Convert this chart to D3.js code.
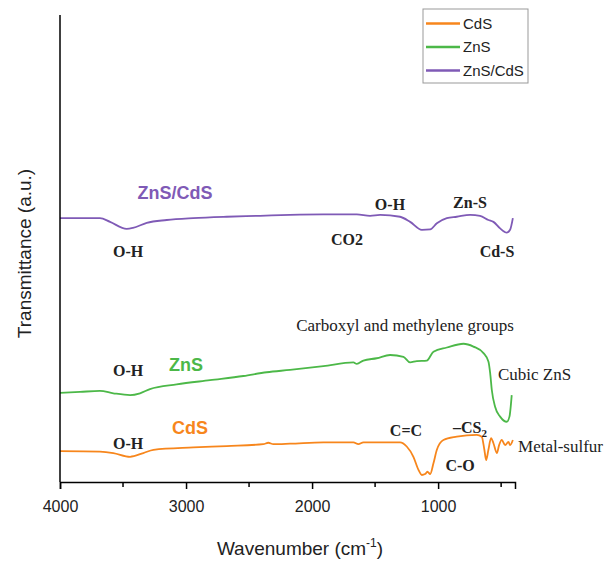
<!DOCTYPE html>
<html>
<head>
<meta charset="utf-8">
<script src="https://cdn.jsdelivr.net/npm/d3@7"></script>
<style>
  body { margin: 0; background: #fff; }
  text { font-family: "Liberation Sans", Arial, sans-serif; }
  .note { font-family: "Liberation Serif", "Times New Roman", serif; fill: #222; }
</style>
</head>
<body>
<div id="chartMain"></div>
<script>
// spectra: wavenumber (cm-1) and transmittance (a.u., offset stacked)
const cdsWn = [4000, 3683, 3577, 3444, 3339, 3259, 2942, 2677, 2387, 2347, 2307, 2175, 1910, 1672, 1633, 1593, 1302, 1249, 1196, 1156, 1129, 1103, 1085, 1063, 1037, 1010, 958, 852, 693, 654, 633, 619, 601, 580, 561, 534, 516, 495, 468, 442, 429, 407];
const cdsT  = [6.6, 6.5, 6.2, 5.4, 6.2, 6.9, 7.4, 7.7, 8.1, 8.4, 8.1, 8.2, 8.5, 8.5, 8.1, 8.5, 8.5, 7.6, 5.4, 2.6, 1.5, 1.7, 2.2, 1.7, 4.0, 6.9, 9.0, 9.7, 10.1, 9.7, 6.9, 4.7, 6.9, 9.4, 8.3, 6.2, 7.9, 9.0, 7.9, 8.6, 7.9, 9.0];

const znsWn = [4000, 3841, 3683, 3577, 3444, 3365, 3286, 3074, 2810, 2545, 2360, 2175, 1910, 1672, 1645, 1593, 1487, 1381, 1275, 1222, 1169, 1090, 1037, 931, 799, 720, 640, 601, 587, 574, 548, 508, 455, 434, 416];
const znsT  = [19.1, 19.3, 19.5, 19.0, 18.6, 19.0, 19.9, 20.9, 21.8, 22.7, 23.5, 24.0, 24.8, 25.6, 25.3, 26.0, 26.5, 27.2, 26.8, 25.6, 25.9, 26.0, 27.9, 28.8, 29.6, 29.0, 27.6, 25.8, 23.3, 19.7, 16.1, 14.0, 12.9, 14.0, 18.6];

const mixWn = [4000, 3683, 3603, 3471, 3421, 3312, 3153, 2944, 2677, 2413, 2175, 1913, 1645, 1540, 1460, 1302, 1222, 1129, 1063, 1010, 931, 852, 746, 667, 601, 561, 508, 455, 429, 407];
const mixT  = [56.5, 56.5, 55.7, 54.2, 54.4, 55.5, 56.1, 56.5, 56.8, 57.0, 57.2, 57.3, 57.3, 57.0, 57.2, 56.8, 55.7, 54.0, 54.1, 55.4, 56.5, 56.8, 57.2, 57.0, 56.1, 55.7, 54.3, 53.4, 54.0, 56.5];

const seriesNames  = ["CdS", "ZnS", "ZnS/CdS"];
const seriesColors = ["#f7861c", "#4cb848", "#7f5ab6"];
const xTicks = [4000, 3000, 2000, 1000];
const xMinorTicks = [3500, 2500, 1500, 500];

// peak labels: [text, wavenumber, transmittance, series index or -1 for black, anchor]
const notes = [
  ["ZnS/CdS", 3088, 60.6, 2, "middle"],
  ["O-H", 3460, 48.2, -1, "middle"],
  ["CO2", 1723, 50.7, -1, "middle"],
  ["O-H", 1382, 58.2, -1, "middle"],
  ["Zn-S", 747, 58.7, -1, "middle"],
  ["Cd-S", 533, 48.2, -1, "middle"],
  ["ZnS", 3000, 23.8, 1, "middle"],
  ["O-H", 3460, 22.7, -1, "middle"],
  ["Carboxyl and methylene groups", 1263, 32.3, -1, "middle"],
  ["Cubic ZnS", 525, 21.8, -1, "start"],
  ["CdS", 2969, 10.3, 0, "middle"],
  ["O-H", 3460, 7.1, -1, "middle"],
  ["C=C", 1255, 9.9, -1, "middle"],
  ["C-O", 826, 2.4, -1, "middle"],
  ["Metal-sulfur", 366, 6.4, -1, "start"]
];

const W = 610, H = 562;
const svg = d3.select('#chartMain').append('svg')
    .attr('width', W).attr('height', H);

const x = d3.scaleLinear().domain([4000, 390]).range([60, 515]);
const y = d3.scaleLinear().domain([0, 100]).range([482, 15]);

const series = [
  cdsWn.map((w, i) => ({ w, t: cdsT[i] })),
  znsWn.map((w, i) => ({ w, t: znsT[i] })),
  mixWn.map((w, i) => ({ w, t: mixT[i] }))
];

const line = d3.line()
    .x(d => x(d.w))
    .y(d => y(d.t))
    .curve(d3.curveMonotoneX);

series.forEach((s, i) => {
  svg.append('path')
      .datum(s)
      .attr('fill', 'none')
      .attr('stroke', seriesColors[i])
      .attr('stroke-width', 1.8)
      .attr('d', line);
});

// axes
const xAxis = d3.axisBottom(x).tickValues(xTicks).tickSize(7).tickPadding(12).tickFormat(d3.format('d'));
const gx = svg.append('g').attr('transform', `translate(0,${y(0)})`).call(xAxis);
gx.select('.domain').attr('stroke-width', 1.5);
gx.selectAll('.tick line').attr('stroke-width', 1.5);
gx.selectAll('text').attr('font-size', 16).attr('fill', '#222')
    .attr('font-family', '"Liberation Sans", Arial, sans-serif');
gx.selectAll('.minor').data(xMinorTicks).enter().append('line')
    .attr('x1', d => x(d)).attr('x2', d => x(d))
    .attr('y1', 0).attr('y2', 5)
    .attr('stroke', '#000').attr('stroke-width', 1.5);

svg.append('line')
    .attr('x1', x(4000)).attr('x2', x(4000))
    .attr('y1', y(100)).attr('y2', y(0))
    .attr('stroke', '#000').attr('stroke-width', 1.5);

// axis titles
const xt = svg.append('text')
    .attr('x', 300).attr('y', 555)
    .attr('text-anchor', 'middle')
    .attr('font-size', 19).attr('fill', '#222')
    .text('Wavenumber (cm');
xt.append('tspan').attr('font-size', 12).attr('dy', -8).text('-1');
xt.append('tspan').attr('dy', 8).text(')');

svg.append('text')
    .attr('transform', `translate(31,${(y(100) + y(0)) / 2 + 5}) rotate(-90)`)
    .attr('text-anchor', 'middle')
    .attr('font-size', 19).attr('fill', '#222')
    .text('Transmittance (a.u.)');

// peak labels
notes.forEach(([t, w, v, si, anchor]) => {
  const el = svg.append('text')
      .attr('x', x(w)).attr('y', y(v))
      .attr('text-anchor', anchor)
      .text(t);
  if (si >= 0) {
    el.attr('fill', seriesColors[si]).attr('font-size', 18).attr('font-weight', 'bold');
  } else if (t.length > 6) {
    el.attr('class', 'note').attr('font-size', 17);
  } else {
    el.attr('class', 'note').attr('font-size', 16).attr('font-weight', 'bold');
  }
});

// -CS2 with subscript
const cs = svg.append('text')
    .attr('class', 'note')
    .attr('x', x(882)).attr('y', y(10.5))
    .attr('font-size', 16).attr('font-weight', 'bold')
    .text('\u2013CS');
cs.append('tspan').attr('font-size', 11).attr('dy', 4).text('2');

// legend
const lg = svg.append('g').attr('transform', 'translate(423,9)');
lg.append('rect').attr('width', 105).attr('height', 74)
    .attr('fill', '#fff').attr('stroke', '#999').attr('stroke-width', 1);
seriesNames.forEach((n, i) => {
  const yy = 14.5 + i * 23.5;
  lg.append('line').attr('x1', 3).attr('x2', 37).attr('y1', yy).attr('y2', yy)
      .attr('stroke', seriesColors[i]).attr('stroke-width', 2.5);
  lg.append('text').attr('x', 40).attr('y', yy + 5)
      .attr('font-size', 15).attr('fill', '#222').text(n);
});
</script>
</body>
</html>
